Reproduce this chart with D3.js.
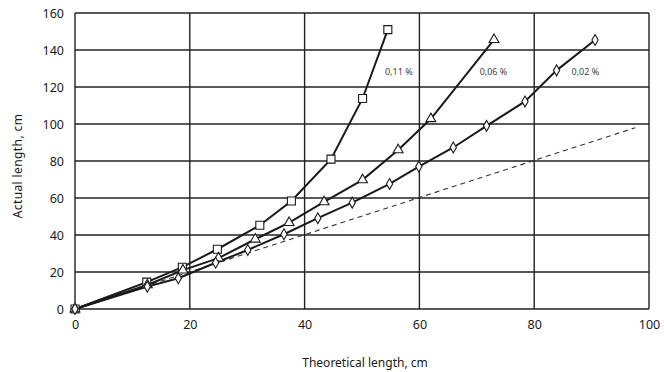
<!DOCTYPE html>
<html>
<head>
<meta charset="utf-8">
<script src="https://cdn.jsdelivr.net/npm/d3@7"></script>
<style>
	body { margin: 0; background: #fff; }
	text { font-family: "Noto Sans", "Open Sans", sans-serif; }
</style>
</head>
<body>
<svg id="chart" width="664" height="372"></svg>
<script>
	// values: theoretical length (x) vs actual length (y), cm
	var sqX = [0, 12.5, 18.7, 24.8, 32.2, 37.7, 44.6, 50.1, 54.5];
	var sqY = [0, 14.5, 22.6, 32.3, 45.3, 58.4, 81, 113.8, 151];

	var triX = [0, 12.6, 18.8, 25, 31.4, 37.3, 43.4, 50.1, 56.3, 62, 73];
	var triY = [0, 13, 21, 27.5, 37.7, 46.7, 57.9, 69.8, 86, 102.8, 145.6];

	var diaX = [0, 12.6, 18, 24.5, 30.1, 36.4, 42.3, 48.3, 54.8, 59.9, 65.9, 71.7, 78.4, 83.9, 90.6];
	var diaY = [0, 12.1, 16.6, 25, 31.9, 40.4, 49.1, 57.5, 67.6, 77, 87.3, 99, 112.2, 129, 145.4];

	// dashed reference line
	var refX = [0, 97.6];
	var refY = [0, 98];

	var seriesNames = ['0,11 %', '0,06 %', '0,02 %'];
	var labelPos = [[54, 128], [70.5, 128], [86.5, 128]];

	var xTicks = [0, 20, 40, 60, 80, 100];
	var yTicks = [0, 20, 40, 60, 80, 100, 120, 140, 160];

	var svg = d3.select('#chart'),
		margin = {left: 75, top: 13, right: 15, bottom: 63},
		width = 664 - margin.left - margin.right,
		height = 372 - margin.top - margin.bottom;

	var x = d3.scaleLinear().domain([0, 100]).range([0, width]);
	var y = d3.scaleLinear().domain([0, 160]).range([height, 0]);

	var g = svg.append('g')
		.attr('transform', 'translate(' + margin.left + ',' + margin.top + ')');

	// grid
	g.append('g').selectAll('line.v')
		.data(xTicks).enter().append('line')
		.attr('x1', function(d) { return x(d); })
		.attr('x2', function(d) { return x(d); })
		.attr('y1', 0).attr('y2', height)
		.attr('stroke', '#222').attr('stroke-width', 1.4);

	g.append('g').selectAll('line.h')
		.data(yTicks).enter().append('line')
		.attr('y1', function(d) { return y(d); })
		.attr('y2', function(d) { return y(d); })
		.attr('x1', 0).attr('x2', width)
		.attr('stroke', '#222').attr('stroke-width', 1.4);

	// axes (labels only)
	var xAxis = g.append('g')
		.attr('transform', 'translate(0,' + height + ')')
		.call(d3.axisBottom(x).tickValues(xTicks).tickSize(0).tickPadding(11));
	var yAxis = g.append('g')
		.call(d3.axisLeft(y).tickValues(yTicks).tickSize(0).tickPadding(11));
	[xAxis, yAxis].forEach(function (ax) {
		ax.select('.domain').remove();
		ax.selectAll('text')
			.style('font-family', '"Noto Sans", sans-serif')
			.style('font-size', '12.5px')
			.attr('fill', '#1a1a1a');
	});

	svg.append('text')
		.attr('x', 365)
		.attr('y', 367)
		.attr('text-anchor', 'middle')
		.attr('fill', '#1a1a1a')
		.style('font-size', '12px')
		.text('Theoretical length, cm');

	svg.append('text')
		.attr('transform', 'translate(22,166) rotate(-90)')
		.attr('text-anchor', 'middle')
		.attr('fill', '#1a1a1a')
		.style('font-size', '12px')
		.style('letter-spacing', '0.4px')
		.text('Actual length, cm');

	function zip(xs, ys) {
		return xs.map(function (v, i) { return [v, ys[i]]; });
	}

	var line = d3.line()
		.x(function(d) { return x(d[0]); })
		.y(function(d) { return y(d[1]); });

	g.append('path')
		.attr('d', line(zip(refX, refY)))
		.attr('fill', 'none')
		.attr('stroke', '#333')
		.attr('stroke-width', 1.1)
		.attr('stroke-dasharray', '5,4');

	var series = [
		{pts: zip(sqX, sqY), sym: d3.symbolSquare, size: 64},
		{pts: zip(triX, triY), sym: d3.symbolTriangle, size: 42},
		{pts: zip(diaX, diaY), sym: d3.symbolDiamond, size: 34}
	];

	series.forEach(function (s) {
		g.append('path')
			.attr('d', line(s.pts))
			.attr('fill', 'none')
			.attr('stroke', '#1a1a1a')
			.attr('stroke-width', 2);
	});

	series.forEach(function (s) {
		g.append('g').selectAll('path')
			.data(s.pts).enter().append('path')
			.attr('d', d3.symbol().type(s.sym).size(s.size))
			.attr('transform', function(d) { return 'translate(' + x(d[0]) + ',' + y(d[1]) + ')'; })
			.attr('fill', '#fff')
			.attr('stroke', '#1a1a1a')
			.attr('stroke-width', 1.1);
	});

	g.selectAll('text.lbl')
		.data(seriesNames).enter().append('text')
		.attr('class', 'lbl')
		.attr('x', function(d, i) { return x(labelPos[i][0]); })
		.attr('y', function(d, i) { return y(labelPos[i][1]); })
		.attr('dy', '0.35em')
		.style('font-size', '9px')
		.attr('fill', '#444')
		.text(function(d) { return d; });
</script>
</body>
</html>
